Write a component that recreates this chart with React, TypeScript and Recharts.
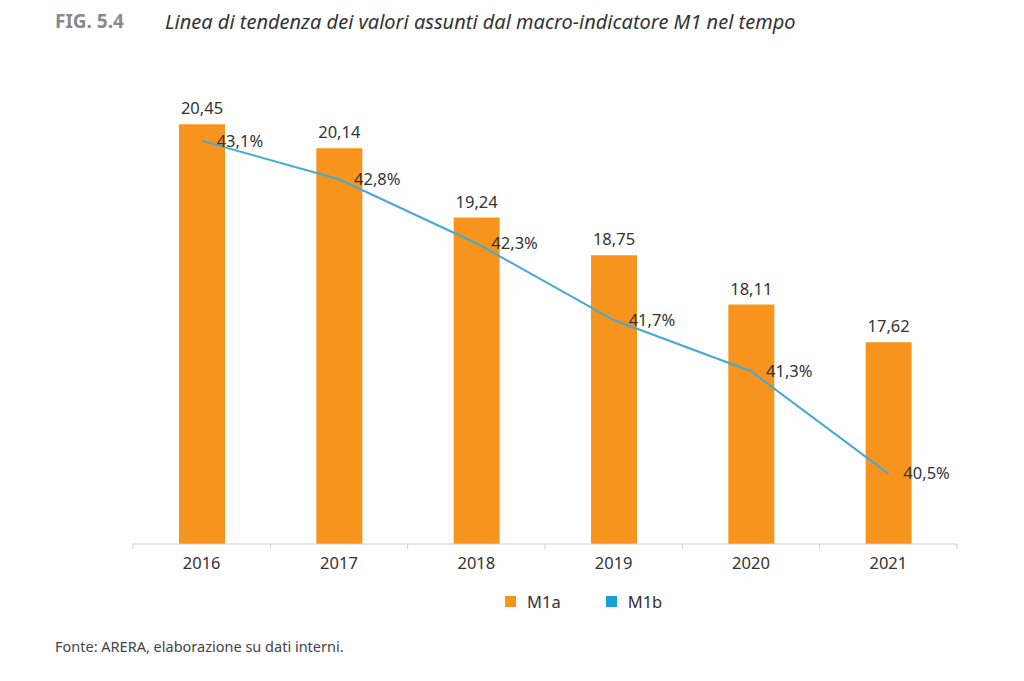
import { ComposedChart, Bar, Line, XAxis, YAxis, LabelList } from 'recharts';

const years = ['2016', '2017', '2018', '2019', '2020', '2021'];
const m1a = [20.45, 20.14, 19.24, 18.75, 18.11, 17.62];
const m1b = [43.1, 42.8, 42.3, 41.7, 41.3, 40.5];

const ORANGE = '#f7941d';
const BLUE = '#45aad3';
const FONT = '"Noto Sans", "Open Sans", sans-serif';

const data = years.map((year, i) => ({ year, m1a: m1a[i], m1b: m1b[i] }));

const fmt = (v: number, digits: number) => v.toFixed(digits).replace('.', ',');

// year label plus small tick marks at the band boundaries
function YearTick(props: any) {
  const { x, y, payload, index } = props;
  const half = payload && payload.offset ? payload.offset : 68.67;
  const last = index === years.length - 1;
  return (
    <g>
      <line x1={x - half} x2={x - half} y1={y} y2={y + 5} stroke="#cfcfcf" />
      {last && <line x1={x + half} x2={x + half} y1={y} y2={y + 5} stroke="#cfcfcf" />}
      <text x={x} y={y + 18} textAnchor="middle" dominantBaseline="central" fill="#333" fontSize={16.5} fontFamily={FONT}>
        {payload.value}
      </text>
    </g>
  );
}

export default function App() {
  return (
    <div style={{ position: 'absolute', left: 0, top: 0, width: 1024, height: 681, background: '#fff', fontFamily: FONT }}>
      <div style={{ position: 'absolute', left: 55, top: 8, fontSize: 19, fontWeight: 700, color: '#8a8a8a' }}>FIG. 5.4</div>
      <div style={{ position: 'absolute', left: 165, top: 8, fontSize: 20, fontStyle: 'italic', color: '#333' }}>
        Linea di tendenza dei valori assunti dal macro-indicatore M1 nel tempo
      </div>

      <div style={{ position: 'absolute', left: 0, top: 0 }}>
        <ComposedChart width={1024} height={681} data={data} margin={{ top: 82, right: 67, bottom: 107, left: 133 }}>
          <XAxis
            dataKey="year"
            stroke="#cfcfcf"
            tickLine={false}
            tickSize={0}
            tickMargin={0}
            tick={<YearTick />}
          />
          <YAxis yAxisId="left" hide domain={[15, 21]} />
          <YAxis yAxisId="right" orientation="right" hide domain={[39.95, 43.56]} />
          <Bar yAxisId="left" dataKey="m1a" fill={ORANGE} barSize={46} isAnimationActive={false}>
            <LabelList
              dataKey="m1a"
              position="top"
              offset={10}
              formatter={(v: number) => fmt(v, 2)}
              style={{ fill: '#333', fontSize: 16.5, fontFamily: FONT }}
            />
          </Bar>
          <Line
            yAxisId="right"
            dataKey="m1b"
            type="linear"
            stroke={BLUE}
            strokeWidth={2}
            dot={false}
            isAnimationActive={false}
          >
            <LabelList
              dataKey="m1b"
              position="right"
              offset={15}
              formatter={(v: number) => fmt(v, 1) + '%'}
              style={{ fill: '#333', fontSize: 16.5, fontFamily: FONT }}
            />
          </Line>
        </ComposedChart>
      </div>

      <div style={{ position: 'absolute', top: 590, left: 505, display: 'flex', alignItems: 'center', fontSize: 16.5, color: '#333' }}>
        <span style={{ width: 11, height: 11, background: ORANGE, display: 'inline-block', marginRight: 11 }} />
        <span style={{ marginRight: 45 }}>M1a</span>
        <span style={{ width: 11, height: 11, background: '#1a9fd9', display: 'inline-block', marginRight: 11 }} />
        <span>M1b</span>
      </div>

      <div style={{ position: 'absolute', left: 55, top: 636, fontSize: 14.5, color: '#444' }}>
        Fonte: ARERA, elaborazione su dati interni.
      </div>
    </div>
  );
}
